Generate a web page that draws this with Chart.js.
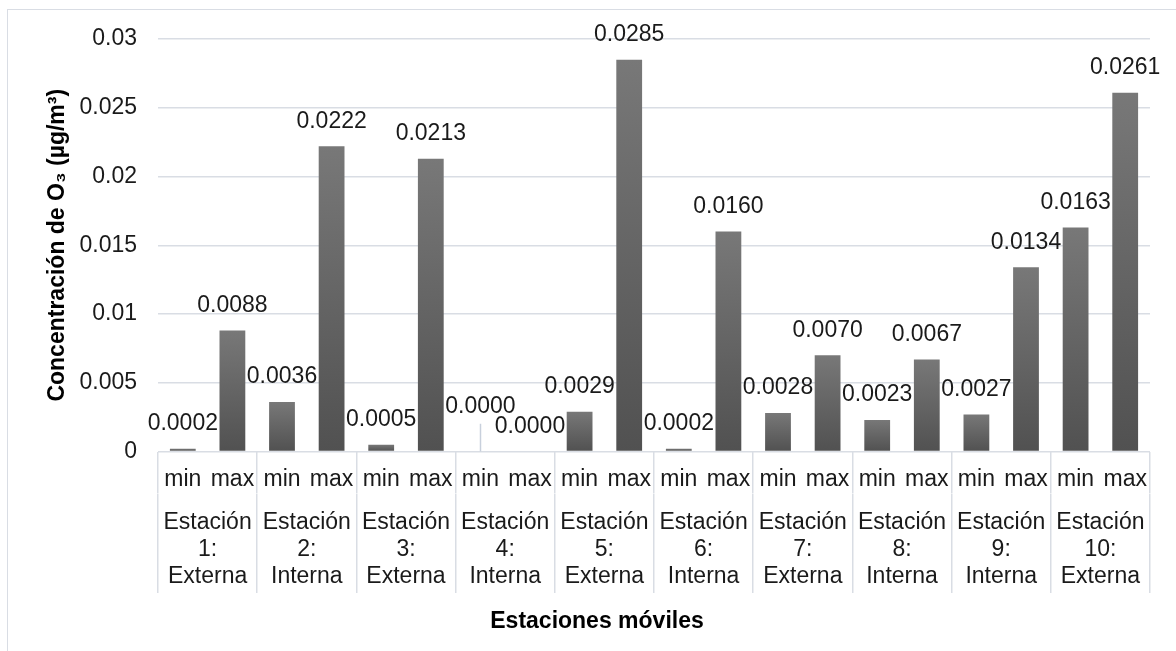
<!DOCTYPE html>
<html>
<head>
<meta charset="utf-8">
<script src="https://cdn.jsdelivr.net/npm/chart.js@4.4.1/dist/chart.umd.min.js"></script>
<style>
  html, body { margin: 0; padding: 0; background: #fff; overflow: hidden; }
  #wrap { position: relative; width: 1176px; height: 651px; }
  #wrap canvas { position: absolute; left: 0; top: 0; }
  #frame { position: absolute; left: 7px; top: 9px; width: 1300px; height: 800px;
           border: 1.5px solid #d9dde4; pointer-events: none; }
</style>
</head>
<body>
<div id="wrap">
  <canvas id="chart" width="1176" height="651"></canvas>
  <div id="frame"></div>
</div>
<script>
// Stations (category labels) and the two measured series
const stationNames = [
  'Estación 1: Externa', 'Estación 2: Interna', 'Estación 3: Externa',
  'Estación 4: Interna', 'Estación 5: Externa', 'Estación 6: Interna',
  'Estación 7: Externa', 'Estación 8: Interna', 'Estación 9: Interna',
  'Estación 10: Externa'
];
const subLabels = ['min', 'max'];
const minValues = [0.0002, 0.0036, 0.0005, 0.0000, 0.0029, 0.0002, 0.0028, 0.0023, 0.0027, 0.0163];
const maxValues = [0.0088, 0.0222, 0.0213, 0.0000, 0.0285, 0.0160, 0.0070, 0.0067, 0.0134, 0.0261];
const yMin = 0;
const yMax = 0.03;
const yStep = 0.005;
const xTitle = 'Estaciones móviles';
const yTitle = 'Concentración de O₃ (µg/m³)';

const FONT = "'Liberation Sans', Arial, Helvetica, sans-serif";
const FS = 23;
const TEXT = '#1a1a1a';
const GRID = '#d9dde4';

// second label row: "min max" under each station
const subRow = [];
stationNames.forEach(() => subRow.push(...subLabels));

// each bar gets its own vertical shading, lighter at the top
function barFill(ctx) {
  const chart = ctx.chart;
  const y = chart.scales && chart.scales.y;
  if (!chart.chartArea || !y || ctx.raw == null) return '#666666';
  const top = y.getPixelForValue(ctx.raw);
  const base = y.getPixelForValue(0);
  if (base - top < 1) return '#5a5a5a';
  const g = chart.ctx.createLinearGradient(0, top, 0, base);
  g.addColorStop(0, '#787878');
  g.addColorStop(1, '#515151');
  return g;
}

// only the boundaries between stations are drawn as separators
function separatorColor(subIndexStep) {
  return (c) => (c.index === undefined || c.index % subIndexStep === 0) ? GRID : 'rgba(0,0,0,0)';
}

// value written above every bar; crowded ones are raised with a leader line
const valueLabels = {
  id: 'valueLabels',
  afterDatasetsDraw(chart, args, opts) {
    const ctx = chart.ctx;
    ctx.save();
    ctx.font = opts.size + 'px ' + FONT;
    ctx.fillStyle = opts.color;
    ctx.textAlign = 'center';
    ctx.textBaseline = 'middle';
    chart.data.datasets.forEach((ds, di) => {
      const meta = chart.getDatasetMeta(di);
      meta.data.forEach((bar, i) => {
        const r = opts.raised.find(o => o.dataset === di && o.index === i);
        const lift = r ? r.by : 0;
        const ty = bar.y - opts.gap - lift;
        if (lift) {
          const lx = Math.round(bar.x) + 0.5;
          ctx.save();
          ctx.strokeStyle = opts.leaderColor;
          ctx.lineWidth = 1.5;
          ctx.beginPath();
          ctx.moveTo(lx, ty + opts.size * 0.75);
          ctx.lineTo(lx, bar.y);
          ctx.stroke();
          ctx.restore();
        }
        ctx.fillText(Number(ds.data[i]).toFixed(4), bar.x, ty);
      });
    });
    ctx.restore();
  }
};

new Chart(document.getElementById('chart'), {
  type: 'bar',
  data: {
    labels: stationNames.map(n => n.split(' ')),
    datasets: [
      { label: subLabels[0], data: minValues, xAxisID: 'x', backgroundColor: barFill,
        borderWidth: 0, categoryPercentage: 1, barPercentage: 0.52 },
      { label: subLabels[1], data: maxValues, xAxisID: 'x', backgroundColor: barFill,
        borderWidth: 0, categoryPercentage: 1, barPercentage: 0.52 }
    ]
  },
  options: {
    responsive: false,
    animation: false,
    layout: { padding: { left: 44, right: 26, top: 39, bottom: 15.2 } },
    plugins: {
      legend: { display: false },
      tooltip: { enabled: false },
      title: {
        display: true, position: 'bottom', text: xTitle, color: '#000',
        font: { family: FONT, size: FS, weight: 'bold', lineHeight: 1.2 },
        padding: { top: 10, bottom: 0 }
      },
      valueLabels: {
        size: FS, color: TEXT, gap: 25, leaderColor: '#c8d0dc',
        raised: [{ dataset: 0, index: 3, by: 20 }]
      }
    },
    scales: {
      y: {
        min: yMin, max: yMax,
        ticks: {
          stepSize: yStep, color: TEXT, padding: 21,
          font: { family: FONT, size: FS },
          callback: v => String(Number(v.toFixed(3)))
        },
        grid: { color: GRID, lineWidth: 1.5, drawTicks: false },
        border: { display: false },
        title: {
          display: true, text: yTitle, color: '#000',
          font: { family: FONT, size: FS, weight: 'bold', lineHeight: 1.2 },
          padding: { top: 0.2, bottom: 0 }
        },
        afterFit: s => { s.width = 114; }
      },
      sub: {
        type: 'category', position: 'bottom', labels: subRow, offset: true, weight: 1,
        grid: {
          offset: true, drawOnChartArea: false, drawTicks: true, tickLength: 42, lineWidth: 1.5,
          color: separatorColor(2), tickColor: separatorColor(2)
        },
        border: { display: false },
        ticks: {
          color: TEXT, padding: -27.3, autoSkip: false, maxRotation: 0, minRotation: 0,
          font: { family: FONT, size: FS, lineHeight: 1.2 }
        },
        afterFit: s => { s.height = 42; }
      },
      x: {
        type: 'category', position: 'bottom', offset: true, weight: 2,
        grid: {
          offset: true, drawOnChartArea: false, drawTicks: true, tickLength: 99.5, lineWidth: 1.5,
          color: separatorColor(1), tickColor: separatorColor(1)
        },
        border: { display: false },
        ticks: {
          color: TEXT, padding: -83.5, autoSkip: false, maxRotation: 0, minRotation: 0,
          font: { family: FONT, size: FS, lineHeight: '27px' }
        },
        afterFit: s => { s.height = 104.7; }
      }
    }
  },
  plugins: [valueLabels]
});
</script>
</body>
</html>
